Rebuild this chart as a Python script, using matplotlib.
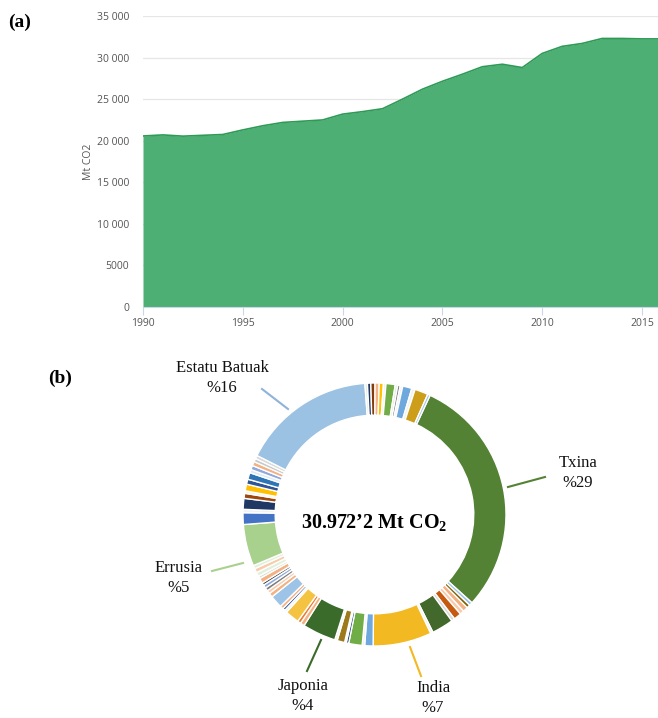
import matplotlib

matplotlib.use("Agg")
import matplotlib.pyplot as plt
from matplotlib.ticker import FuncFormatter

plt.rcParams["mathtext.fontset"] = "custom"
plt.rcParams["mathtext.rm"] = "Liberation Serif"
plt.rcParams["mathtext.bf"] = "Liberation Serif:bold"

# (a) munduko CO2 isurketak, Mt
years = list(range(1990, 2017))
emissions = [
    20570, 20700, 20550, 20650, 20750, 21300, 21800, 22200, 22350, 22500,
    23200, 23500, 23850, 25000, 26200, 27150, 28000, 28900, 29200, 28800,
    30500, 31350, 31700, 32300, 32300, 32250, 32250,
]
y_ticks = [0, 5000, 10000, 15000, 20000, 25000, 30000, 35000]
x_ticks = [1990, 1995, 2000, 2005, 2010, 2015]

# (b) herrialdeen banaketa, % (erlojuaren noranzkoan, Txinatik hasita)
shares = [
    29.0,
    0.4, 0.4, 0.6, 0.5, 0.9, 0.4, 2.6, 0.3,
    7.0,
    1.0, 0.3, 1.6, 0.3, 0.2, 0.9, 0.3,
    4.0,
    0.5, 0.4, 1.7, 0.3, 0.3, 0.4, 1.5, 0.5, 0.4, 0.4, 0.4, 0.3, 0.6, 0.3, 0.5, 0.5, 0.4,
    5.0,
    1.4, 0.4, 1.3, 0.6, 0.3, 0.8, 0.6, 0.8, 0.4, 0.5, 0.5, 0.4, 0.4,
    16.0,
    0.3, 0.4, 0.5, 0.5, 0.5, 0.3, 1.1, 0.3, 0.3, 0.3, 1.1, 0.4, 1.6, 0.3,
]
colors = [
    "#548235",
    "#9DC3E6", "#7F6000", "#F4B183", "#F8CBAD", "#C55A11", "#D9D9D9", "#43682B", "#F2F2F2",
    "#F2B922",
    "#6FA8DC", "#F2F2F2", "#70AD47", "#264478", "#DEEBF7", "#9C7A1B", "#F2F2F2",
    "#3B6B2A",
    "#F4B183", "#ED7D31", "#F5C342", "#F2F2F2", "#2F5597", "#F4B183", "#9DC3E6", "#F4B183",
    "#F8CBAD", "#7F7F7F", "#8FAADC", "#404040", "#F4B183", "#D9D9D9", "#E2F0D9", "#F8CBAD", "#E2F0D9",
    "#A9D18E",
    "#4472C4", "#F2F2F2", "#1F3864", "#9E480E", "#F2F2F2", "#FFC000", "#2F5597", "#2E75B6",
    "#DEEBF7", "#8FAADC", "#F4B183", "#C9C9C9", "#D9D9D9",
    "#9BC1E3",
    "#E2F0D9", "#203864", "#843C0C", "#F4B183", "#FFC000", "#F2F2F2", "#70AD47", "#E2F0D9",
    "#7F7F7F", "#F2F2F2", "#6FA8DC", "#F2F2F2", "#CC9E1A", "#9DC3E6",
]

fig = plt.figure(figsize=(6.58, 7.18), dpi=100)

# --- (a) area chart ---
ax = fig.add_axes([0.2173, 0.5724, 0.7827, 0.4053])
ax.fill_between(years, emissions, 0, color="#4DAF74", zorder=2, linewidth=0)
ax.plot(years, emissions, color="#2E9A55", linewidth=1.2, zorder=3)
ax.set_xlim(1990, 2015.8)
ax.set_ylim(0, 35000)
ax.set_yticks(y_ticks)
ax.set_xticks(x_ticks)
ax.yaxis.set_major_formatter(
    FuncFormatter(lambda v, _: f"{int(v):,}".replace(",", " ") if v >= 10000 else f"{int(v)}")
)
ax.grid(axis="y", color="#E6E6E6", linewidth=0.9, zorder=0)
for side in ("top", "right", "left"):
    ax.spines[side].set_visible(False)
ax.spines["bottom"].set_color("#CCD6EB")
ax.tick_params(axis="y", length=0, pad=10, labelsize=7.5, labelcolor="#555555")
ax.tick_params(axis="x", length=6, color="#CCD6EB", pad=2, labelsize=7.5, labelcolor="#555555")
for lbl in ax.get_xticklabels() + ax.get_yticklabels():
    lbl.set_fontfamily("Open Sans")
ax.set_ylabel("Mt CO2", fontsize=7.5, color="#555555", fontfamily="Open Sans", labelpad=2)

fig.text(8 / 658, 1 - 22 / 718, "(a)", fontsize=14, fontweight="bold",
         fontfamily="Liberation Serif", va="center", ha="left")

# --- (b) donut ---
cx, cy, r = 374.5, 514.5, 131.5
W, H = 658, 718
axd = fig.add_axes([(cx - r) / W, 1 - (cy + r) / H, 2 * r / W, 2 * r / H])
axd.pie(
    shares,
    colors=colors,
    startangle=65,
    counterclock=False,
    radius=1.0,
    wedgeprops=dict(width=0.245, edgecolor="white", linewidth=1.0),
)
axd.set_xlim(-1, 1)
axd.set_ylim(-1, 1)
axd.set_aspect("equal")
axd.axis("off")

axd.text(0, -0.07, "30.972’2 Mt CO$_\\mathbf{2}$", ha="center", va="center",
         fontsize=14.5, fontweight="bold", fontfamily="Liberation Serif")

fig.text(48 / W, 1 - 378 / H, "(b)", fontsize=14, fontweight="bold",
         fontfamily="Liberation Serif", va="center", ha="left")


def px(x, y):
    return x / W, 1 - y / H


def label(x, y, text, line, color):
    fig.text(*px(x, y), text, ha="center", va="center", fontsize=12,
             fontfamily="Liberation Serif", linespacing=1.3, color="#111111")
    (x0, y0), (x1, y1) = line
    fig.add_artist(plt.Line2D([x0 / W, x1 / W], [1 - y0 / H, 1 - y1 / H],
                              color=color, linewidth=1.5))


label(222, 378, "Estatu Batuak\n%16", ((262, 389), (288, 409)), "#8FB3DA")
label(578, 473, "Txina\n%29", ((508, 487), (545, 477)), "#548235")
label(179, 578, "Errusia\n%5", ((212, 571), (243, 563)), "#A9D18E")
label(303, 696, "Japonia\n%4", ((321, 640), (307, 671)), "#3B6B2A")
label(433, 698, "India\n%7", ((410, 647), (421, 676)), "#F2B922")

fig.savefig("out.png", dpi=100)
